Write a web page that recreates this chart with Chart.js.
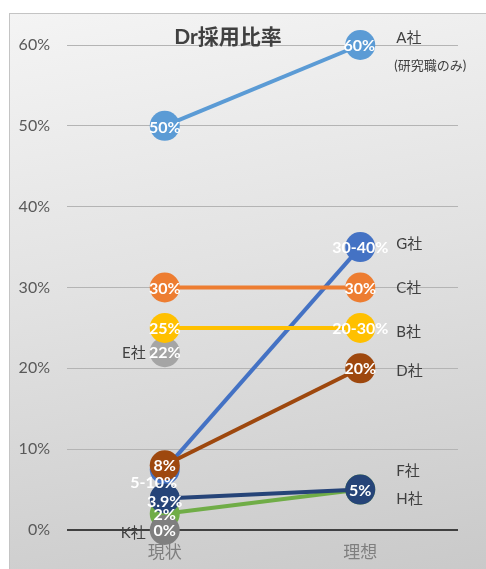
<!DOCTYPE html>
<html>
<head>
<meta charset="utf-8">
<script src="https://cdn.jsdelivr.net/npm/chart.js@4"></script>
<style>
  html, body { margin: 0; padding: 0; background: #fff; }
  #frame {
    position: absolute; left: 9px; top: 13px; width: 480px; height: 560px;
    border: 1px solid #c4c4c4;
    background: linear-gradient(170deg, #f4f4f4 0%, #e2e2e2 45%, #c9c9c9 100%);
  }
  #statsChart { position: absolute; left: 0; top: 0; }
</style>
</head>
<body>
<div id="frame"></div>
<canvas id="statsChart" width="486" height="569"></canvas>
<script>
// data
const categories = ["現状", "理想"];
const chartTitle = "Dr採用比率";
const yTicks = [0, 10, 20, 30, 40, 50, 60];

const companies = ["A社", "C社", "B社", "E社", "D社", "K社", "F社", "G社", "H社"];
const valuesA = [50, 60];
const valuesC = [30, 30];
const valuesB = [25, 25];
const valuesE = [22, null];
const valuesD = [8, 20];
const valuesK = [0, null];
const valuesF = [3.9, 5];
const valuesG = [7.5, 35];
const valuesH = [2, 5];

const labelsA = ["50%", "60%"];
const labelsC = ["30%", "30%"];
const labelsB = ["25%", "20-30%"];
const labelsE = ["22%", ""];
const labelsD = ["8%", "20%"];
const labelsK = ["0%", ""];
const labelsF = ["3.9%", "5%"];
const labelsG = ["5-10%", "30-40%"];
const labelsH = ["2%", ""];
const noteA = "(研究職のみ)";

// styles
const FONT = "Lato, 'Noto Sans CJK JP', sans-serif";
const seriesStyle = {
  "A社": { color: "#5b9bd5", side: "right", dy: -7 },
  "C社": { color: "#ed7d31", side: "right", dy: 1 },
  "B社": { color: "#ffc000", side: "right", dy: 4 },
  "E社": { color: "#a5a5a5", side: "left", dy: 1 },
  "D社": { color: "#9e480e", side: "right", dy: 3 },
  "K社": { color: "#7f7f7f", side: "left", dy: 3 },
  "F社": { color: "#264478", side: "right", dy: -18 },
  "G社": { color: "#4472c4", side: "right", dy: -3 },
  "H社": { color: "#70ad47", side: "right", dy: 10 }
};
// per-label nudges [left, right]
const labelShift = {
  "G社": [{ dx: -11, dy: 12 }, { dx: 0, dy: 0 }],
  "F社": [{ dx: 0, dy: 2 }, { dx: 0, dy: 0 }],
  "A社": [{ dx: 0, dy: 1 }, { dx: -1, dy: 0 }]
};

const allValues = [valuesA, valuesC, valuesB, valuesE, valuesD, valuesK, valuesF, valuesG, valuesH];
const allLabels = [labelsA, labelsC, labelsB, labelsE, labelsD, labelsK, labelsF, labelsG, labelsH];

const datasets = companies.map((name, i) => {
  const c = seriesStyle[name].color;
  return {
    label: name,
    data: allValues[i],
    borderColor: c,
    backgroundColor: c,
    pointBackgroundColor: c,
    pointBorderWidth: 0,
    pointRadius: 15,
    pointHoverRadius: 15,
    borderWidth: 4,
    clip: false,
    spanGaps: false
  };
});

// labels + names + title
const labelPlugin = {
  id: "labelPlugin",
  afterDatasetsDraw(chart) {
    const ctx = chart.ctx;
    ctx.save();
    ctx.textBaseline = "middle";

    // value labels (drawn bottom-up so upper ones sit on top)
    for (let i = companies.length - 1; i >= 0; i--) {
      const name = companies[i];
      const meta = chart.getDatasetMeta(i);
      meta.data.forEach((pt, j) => {
        const txt = allLabels[i][j];
        if (!txt || allValues[i][j] === null) return;
        const s = (labelShift[name] || [])[j] || { dx: 0, dy: 0 };
        ctx.font = "bold 16px " + FONT;
        ctx.fillStyle = "#ffffff";
        ctx.textAlign = "center";
        ctx.fillText(txt, pt.x + s.dx, pt.y + s.dy + 1);
      });
    }

    // company names
    ctx.font = "15px " + FONT;
    ctx.fillStyle = "#404040";
    companies.forEach((name, i) => {
      const st = seriesStyle[name];
      const meta = chart.getDatasetMeta(i);
      if (st.side === "right") {
        const pt = meta.data[1];
        ctx.textAlign = "left";
        ctx.fillText(name, pt.x + 36, pt.y + st.dy);
      } else {
        const pt = meta.data[0];
        ctx.textAlign = "right";
        ctx.fillText(name, pt.x - 19, pt.y + st.dy);
      }
    });
    const ptA = chart.getDatasetMeta(0).data[1];
    ctx.font = "13px " + FONT;
    ctx.textAlign = "left";
    ctx.fillText(noteA, ptA.x + 34, ptA.y + 21);

    // title
    ctx.font = "bold 21px " + FONT;
    ctx.fillStyle = "#404040";
    ctx.textAlign = "center";
    ctx.fillText(chartTitle, 228, 37);
    ctx.restore();
  }
};

const ctx = document.getElementById("statsChart").getContext("2d");
new Chart(ctx, {
  type: "line",
  data: { labels: categories, datasets: datasets },
  options: {
    responsive: false,
    animation: false,
    layout: { padding: { top: 45, right: 28, bottom: 0, left: 0 } },
    plugins: {
      legend: { display: false },
      tooltip: { enabled: false },
      title: { display: false }
    },
    scales: {
      x: {
        offset: true,
        grid: { display: false, drawTicks: false },
        border: { display: false },
        ticks: { color: "#7f7f7f", font: { size: 17, family: FONT }, padding: 12 },
        afterFit(scale) { scale.height = 39; }
      },
      y: {
        min: 0,
        max: 60,
        afterBuildTicks(scale) { scale.ticks = yTicks.map(v => ({ value: v })); },
        grid: {
          drawTicks: false,
          color: (c) => c.tick && c.tick.value === 0 ? "#404040" : "#b4b4b4",
          lineWidth: (c) => c.tick && c.tick.value === 0 ? 2 : 1
        },
        border: { display: false },
        ticks: {
          color: "#595959",
          font: { size: 16, family: FONT },
          padding: 17,
          callback: (v) => v + "%"
        },
        afterFit(scale) { scale.width = 67; }
      }
    }
  },
  plugins: [labelPlugin]
});
</script>
</body>
</html>
